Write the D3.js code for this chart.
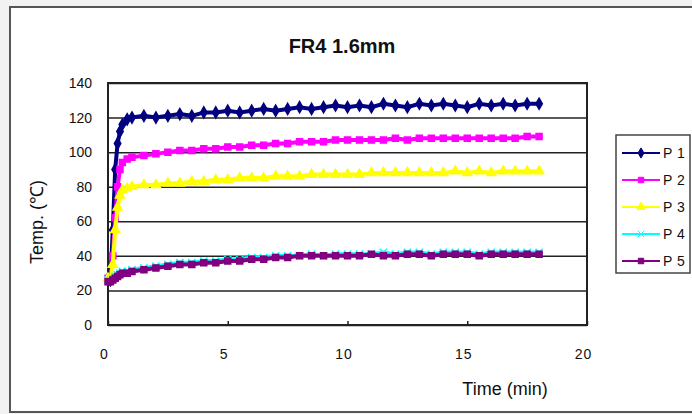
<!DOCTYPE html>
<html>
<head>
<meta charset="utf-8">
<script src="https://cdn.jsdelivr.net/npm/d3@7"></script>
<style>
  body { margin: 0; background: #f2f2f2; }
  svg { display: block; }
  text { font-family: "Liberation Sans", Arial, sans-serif; }
</style>
</head>
<body>
<div id="chart"></div>
<script>
// time in minutes
const times = [0, 0.1, 0.2, 0.3, 0.4, 0.5, 0.6, 0.8, 1, 1.5, 2, 2.5, 3, 3.5, 4, 4.5, 5, 5.5, 6, 6.5,
  7, 7.5, 8, 8.5, 9, 9.5, 10, 10.5, 11, 11.5, 12, 12.5, 13, 13.5, 14, 14.5, 15, 15.5, 16, 16.5, 17, 17.5, 18]

const p1 = [27, 26, 55, 90, 105, 112, 116, 119, 120, 121, 120, 121, 122, 121, 123, 123, 124, 123, 124, 125,
  124, 125, 126, 125, 126, 127, 126, 127, 126, 128, 127, 126, 128, 127, 128, 127, 126, 128, 127, 128, 127, 128, 128]
const p2 = [27, 26, 40, 62, 80, 90, 94, 96, 97, 98, 99, 100, 101, 101, 102, 102, 103, 103, 104, 104,
  105, 105, 106, 106, 106, 107, 107, 107, 107, 107, 108, 107, 108, 108, 108, 108, 108, 108, 108, 108, 108, 109, 109]
const p3 = [27, 26, 35, 55, 68, 75, 78, 79, 80, 81, 81, 82, 82, 83, 83, 84, 84, 85, 85, 85,
  86, 86, 86, 87, 87, 87, 87, 87, 88, 88, 88, 88, 88, 88, 88, 89, 88, 89, 88, 89, 89, 89, 89]
const p4 = [26, 26, 27, 28, 29, 30, 31, 31, 32, 33, 34, 35, 36, 36, 37, 37, 38, 38, 39, 39,
  40, 40, 40, 41, 40, 41, 41, 41, 41, 42, 41, 42, 42, 41, 42, 42, 42, 41, 42, 42, 42, 42, 42]
const p5 = [25, 25, 26, 27, 28, 29, 30, 30, 31, 32, 33, 34, 35, 35, 36, 36, 37, 37, 38, 38,
  39, 39, 40, 40, 40, 40, 40, 40, 41, 40, 40, 41, 41, 40, 41, 41, 41, 40, 41, 41, 41, 41, 41]

const seriesNames = ['P 1', 'P 2', 'P 3', 'P 4', 'P 5']
const seriesValues = [p1, p2, p3, p4, p5]
const seriesColors = ['#000080', '#ff00ff', '#ffff00', '#00ffff', '#800080']
const seriesSymbols = [d3.symbolDiamond, d3.symbolSquare, d3.symbolTriangle, d3.symbolTimes, d3.symbolSquare]

const xTicks = [0, 5, 10, 15, 20]
const yTicks = [0, 20, 40, 60, 80, 100, 120, 140]

const width = 692
const height = 414
const plot = { left: 108, right: 587, top: 83, bottom: 325 }

const svg = d3.select('#chart')
  .append('svg')
  .attr('width', width)
  .attr('height', height)

// outer frame
svg.append('rect')
  .attr('x', 10).attr('y', 7)
  .attr('width', 700).attr('height', 405)
  .attr('fill', '#fff')
  .attr('stroke', '#555')
  .attr('stroke-width', 2)

const x = d3.scaleLinear().domain([0, 20]).range([plot.left, plot.right])
const y = d3.scaleLinear().domain([0, 140]).range([plot.bottom, plot.top])

// gridlines
svg.append('g')
  .attr('transform', `translate(${plot.left},0)`)
  .call(d3.axisLeft(y).tickValues(yTicks).tickSize(-(plot.right - plot.left)).tickFormat(''))
  .call(g => g.select('.domain').remove())
  .call(g => g.selectAll('line').attr('stroke', '#222').attr('stroke-width', 1.5))

// y tick labels
svg.append('g')
  .attr('transform', `translate(${plot.left},0)`)
  .call(d3.axisLeft(y).tickValues(yTicks).tickSize(0).tickPadding(16))
  .call(g => g.select('.domain').remove())
  .call(g => g.selectAll('text')
    .attr('font-size', 14)
    .attr('font-family', '"Liberation Sans", Arial, sans-serif')
    .attr('fill', '#111'))

// x axis
svg.append('g')
  .attr('transform', `translate(0,${plot.bottom})`)
  .call(d3.axisBottom(x).tickValues(xTicks).tickSize(-4).tickPadding(24))
  .call(g => g.select('.domain').remove())
  .call(g => g.selectAll('line').attr('stroke', '#222').attr('stroke-width', 1.5))
  .call(g => g.selectAll('text')
    .attr('font-size', 14)
    .attr('dx', -4)
    .attr('letter-spacing', 1)
    .attr('font-family', '"Liberation Sans", Arial, sans-serif')
    .attr('fill', '#111'))

// plot border
svg.append('rect')
  .attr('x', plot.left).attr('y', plot.top)
  .attr('width', plot.right - plot.left)
  .attr('height', plot.bottom - plot.top)
  .attr('fill', 'none')
  .attr('stroke', '#222')
  .attr('stroke-width', 2)

// series
const line = d3.line()
  .x((d, i) => x(times[i]))
  .y(d => y(d))

seriesValues.forEach((vals, s) => {
  const g = svg.append('g')
  g.append('path')
    .datum(vals)
    .attr('d', line)
    .attr('fill', 'none')
    .attr('stroke', seriesColors[s])
    .attr('stroke-width', 4)
  g.selectAll('path.mark')
    .data(vals)
    .join('path')
    .attr('class', 'mark')
    .attr('transform', (d, i) => `translate(${x(times[i])},${y(d)})`)
    .attr('d', d3.symbol().type(seriesSymbols[s]).size(36))
    .attr('fill', seriesColors[s])
    .attr('stroke', seriesColors[s])
    .attr('stroke-width', 1.5)
})

// title
svg.append('text')
  .attr('x', 342).attr('y', 53)
  .attr('text-anchor', 'middle')
  .attr('font-size', 20)
  .attr('font-weight', 'bold')
  .attr('fill', '#111')
  .text('FR4 1.6mm')

// axis titles
svg.append('text')
  .attr('x', 505).attr('y', 395)
  .attr('text-anchor', 'middle')
  .attr('font-size', 18)
  .attr('fill', '#111')
  .text('Time (min)')

svg.append('text')
  .attr('transform', 'translate(43,222) rotate(-90)')
  .attr('text-anchor', 'middle')
  .attr('font-size', 18)
  .attr('fill', '#111')
  .text('Temp.  (\u2103)')

// legend
const legend = svg.append('g')
legend.append('rect')
  .attr('x', 616).attr('y', 135)
  .attr('width', 74).attr('height', 138)
  .attr('fill', '#fff')
  .attr('stroke', '#444')
  .attr('stroke-width', 1.5)

seriesNames.forEach((name, s) => {
  const ly = 153 + s * 27
  legend.append('line')
    .attr('x1', 622).attr('x2', 660)
    .attr('y1', ly).attr('y2', ly)
    .attr('stroke', seriesColors[s])
    .attr('stroke-width', 2)
  legend.append('path')
    .attr('transform', `translate(641,${ly})`)
    .attr('d', d3.symbol().type(seriesSymbols[s]).size(30))
    .attr('fill', seriesColors[s])
    .attr('stroke', seriesColors[s])
  legend.append('text')
    .attr('x', 663).attr('y', ly + 5)
    .attr('font-size', 14)
    .attr('letter-spacing', 0.5)
    .attr('fill', '#111')
    .text(name)
})
</script>
</body>
</html>
